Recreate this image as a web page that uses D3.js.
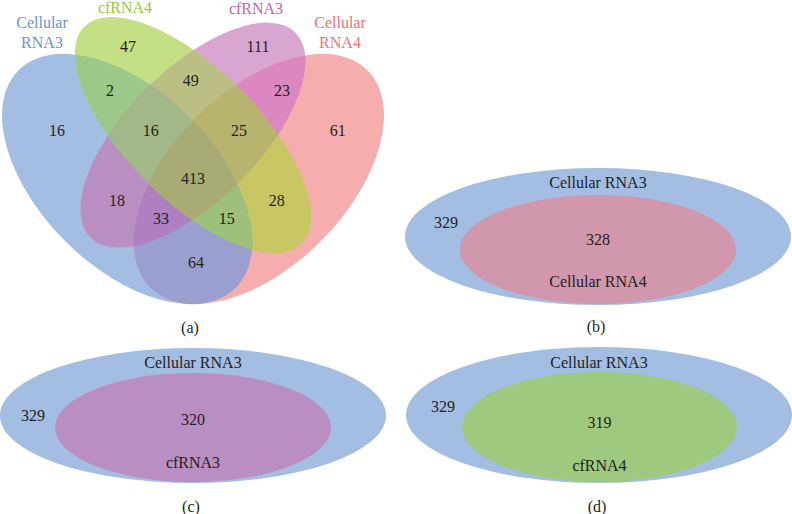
<!DOCTYPE html>
<html>
<head>
<meta charset="utf-8">
<script src="https://cdn.jsdelivr.net/npm/d3@7"></script>
<style>
  html, body { margin: 0; padding: 0; background: #fff; }
  svg { display: block; }
</style>
</head>
<body>
<svg id="chart" width="792" height="514" font-family="'Liberation Serif', 'Times New Roman', Tinos, 'DejaVu Serif', serif"></svg>
<script>
// ---------------- DATA ----------------
const setNames = ["Cellular RNA3", "cfRNA4", "cfRNA3", "Cellular RNA4"];
// 4-set Venn region counts (membership key -> count), keys in order of setNames
const regionKeys   = ["1000","0100","0010","0001","1100","0110","0011","1010","0101","1001","1110","0111","1011","1101","1111"];
const regionCounts = [16, 47, 111, 61, 2, 49, 23, 18, 28, 64, 16, 25, 33, 15, 413];
// nested comparisons (b), (c), (d)
const nestedOuter  = ["Cellular RNA3", "Cellular RNA3", "Cellular RNA3"];
const nestedInner  = ["Cellular RNA4", "cfRNA3", "cfRNA4"];
const nestedOuterCounts = [329, 329, 329];
const nestedInnerCounts = [328, 320, 319];
const panelTags = ["(a)", "(b)", "(c)", "(d)"];

// ---------------- LAYOUT / STYLE ----------------
const svg = d3.select("#chart");
const fontSize = 16;
const textCol = "#231f20";

// unit coordinate scales for the 4-set Venn
const S = 439, X0 = 193, Y0 = 179;
const sx = d3.scaleLinear().domain([0.5, 1.5]).range([X0, X0 + S]);
const sy = d3.scaleLinear().domain([0.47, 1.47]).range([Y0, Y0 - S]);
const sLen = d3.scaleLinear().domain([0, 1]).range([0, S]);

// ellipse geometry per set (index = set index)
const ellipses = [
  { cx: 0.35, cy: 0.47, a: 0.35, b: 0.20, rot: 45 },
  { cx: 0.50, cy: 0.57, a: 0.35, b: 0.15, rot: 45 },
  { cx: 0.50, cy: 0.57, a: 0.33, b: 0.15, rot: -45 },
  { cx: 0.65, cy: 0.47, a: 0.35, b: 0.20, rot: -45 }
];
const regionColor = {
  "1000": "#a4bde3", "0100": "#c5df85", "0010": "#d9a6d2", "0001": "#f5adad",
  "1100": "#9cc98a", "0110": "#bcbf84", "0011": "#dd87c0", "1010": "#b98fc3",
  "0101": "#c8c763", "1001": "#9b9fd0", "1110": "#a3b888", "0111": "#b8b46f",
  "1011": "#ae80bf", "1101": "#9dc17b", "1111": "#a8ab73"
};

const defs = svg.append("defs");
ellipses.forEach((e, i) => {
  defs.append("clipPath").attr("id", "clip" + i)
    .append("ellipse")
    .attr("cx", 0).attr("cy", 0)
    .attr("rx", sLen(e.a)).attr("ry", sLen(e.b))
    .attr("transform", `translate(${sx(e.cx)},${sy(e.cy)}) rotate(${e.rot})`);
});

const gA = svg.append("g");
// paint each set-intersection in order of increasing size -> every region ends up with its own colour
const order = regionKeys.slice().sort((p, q) =>
  (p.split("1").length) - (q.split("1").length));
order.forEach(key => {
  const members = key.split("").map((c, i) => c === "1" ? i : -1).filter(i => i >= 0);
  let g = gA;
  members.slice(1).forEach(m => { g = g.append("g").attr("clip-path", `url(#clip${m})`); });
  const e = ellipses[members[0]];
  g.append("ellipse")
    .attr("cx", 0).attr("cy", 0)
    .attr("rx", sLen(e.a)).attr("ry", sLen(e.b))
    .attr("transform", `translate(${sx(e.cx)},${sy(e.cy)}) rotate(${e.rot})`)
    .attr("fill", regionColor[key]);
});

// region label positions (unit coords)
const regionPos = {
  "1000": [0.190, 0.568], "0100": [0.352, 0.759], "0010": [0.648, 0.759], "0001": [0.830, 0.568],
  "1100": [0.311, 0.659], "0110": [0.495, 0.682], "0011": [0.703, 0.659], "1010": [0.327, 0.408],
  "0101": [0.691, 0.408], "1001": [0.507, 0.267], "1110": [0.404, 0.568], "0111": [0.605, 0.568],
  "1011": [0.427, 0.367], "1101": [0.577, 0.367], "1111": [0.500, 0.459]
};
gA.selectAll("text.num").data(regionKeys.map((k, i) => ({ k, v: regionCounts[i] }))).join("text")
  .attr("class", "num")
  .attr("x", d => sx(regionPos[d.k][0]))
  .attr("y", d => sy(regionPos[d.k][1]))
  .attr("text-anchor", "middle")
  .attr("font-size", fontSize)
  .attr("fill", textCol)
  .text(d => d.v);

// set labels
const setLabelPos = [
  { x: 42,  y: 28, col: "#7092d2" },
  { x: 125, y: 13, col: "#9cc83d" },
  { x: 256, y: 14, col: "#c462b6" },
  { x: 340, y: 28, col: "#ee7575" }
];
setLabelPos.forEach((p, i) => {
  const words = setNames[i].split(" ");
  const t = gA.append("text").attr("text-anchor", "middle").attr("font-size", fontSize)
    .attr("fill", p.col);
  words.forEach((ln, j) => {
    t.append("tspan").attr("x", p.x).attr("y", p.y + j * 20).text(ln);
  });
});

gA.append("text").attr("x", 190).attr("y", 333).attr("text-anchor", "middle")
  .attr("font-size", fontSize).attr("fill", textCol).text(panelTags[0]);

// ---------------- nested panels ----------------
const nestedLayout = [
  { ox: 598, oy: 236.5, orx: 193, ory: 68.5, ix: 598, iy: 249.5, irx: 138, iry: 54.5, inFill: "#d197ad",
    tOut: 188, nOutX: 446, nOutY: 228, nIn: 245, tIn: 287, tag: 332 },
  { ox: 193, oy: 415.5, orx: 193, ory: 67.5, ix: 193, iy: 427.5, irx: 138, iry: 54.5, inFill: "#b98fc3",
    tOut: 368, nOutX: 33, nOutY: 421, nIn: 425, tIn: 468, tag: 512 },
  { ox: 599, oy: 415, orx: 193, ory: 68, ix: 599.5, iy: 427, irx: 137.5, iry: 55, inFill: "#9ec97f",
    tOut: 368, nOutX: 443, nOutY: 412, nIn: 428, tIn: 471, tag: 512 }
];
nestedLayout.forEach((L, i) => {
  const g = svg.append("g");
  g.append("ellipse").attr("cx", L.ox).attr("cy", L.oy).attr("rx", L.orx).attr("ry", L.ory)
    .attr("fill", "#a4bde3");
  g.append("ellipse").attr("cx", L.ix).attr("cy", L.iy).attr("rx", L.irx).attr("ry", L.iry)
    .attr("fill", L.inFill);
  const txt = (x, y, s) => g.append("text").attr("x", x).attr("y", y).attr("text-anchor", "middle")
    .attr("font-size", fontSize).attr("fill", textCol).text(s);
  txt(L.ox, L.tOut, nestedOuter[i]);
  txt(L.nOutX, L.nOutY, nestedOuterCounts[i]);
  txt(L.ix, L.nIn, nestedInnerCounts[i]);
  txt(L.ix, L.tIn, nestedInner[i]);
  txt(L.ox - 2, L.tag, panelTags[i + 1]);
});
</script>
</body>
</html>
